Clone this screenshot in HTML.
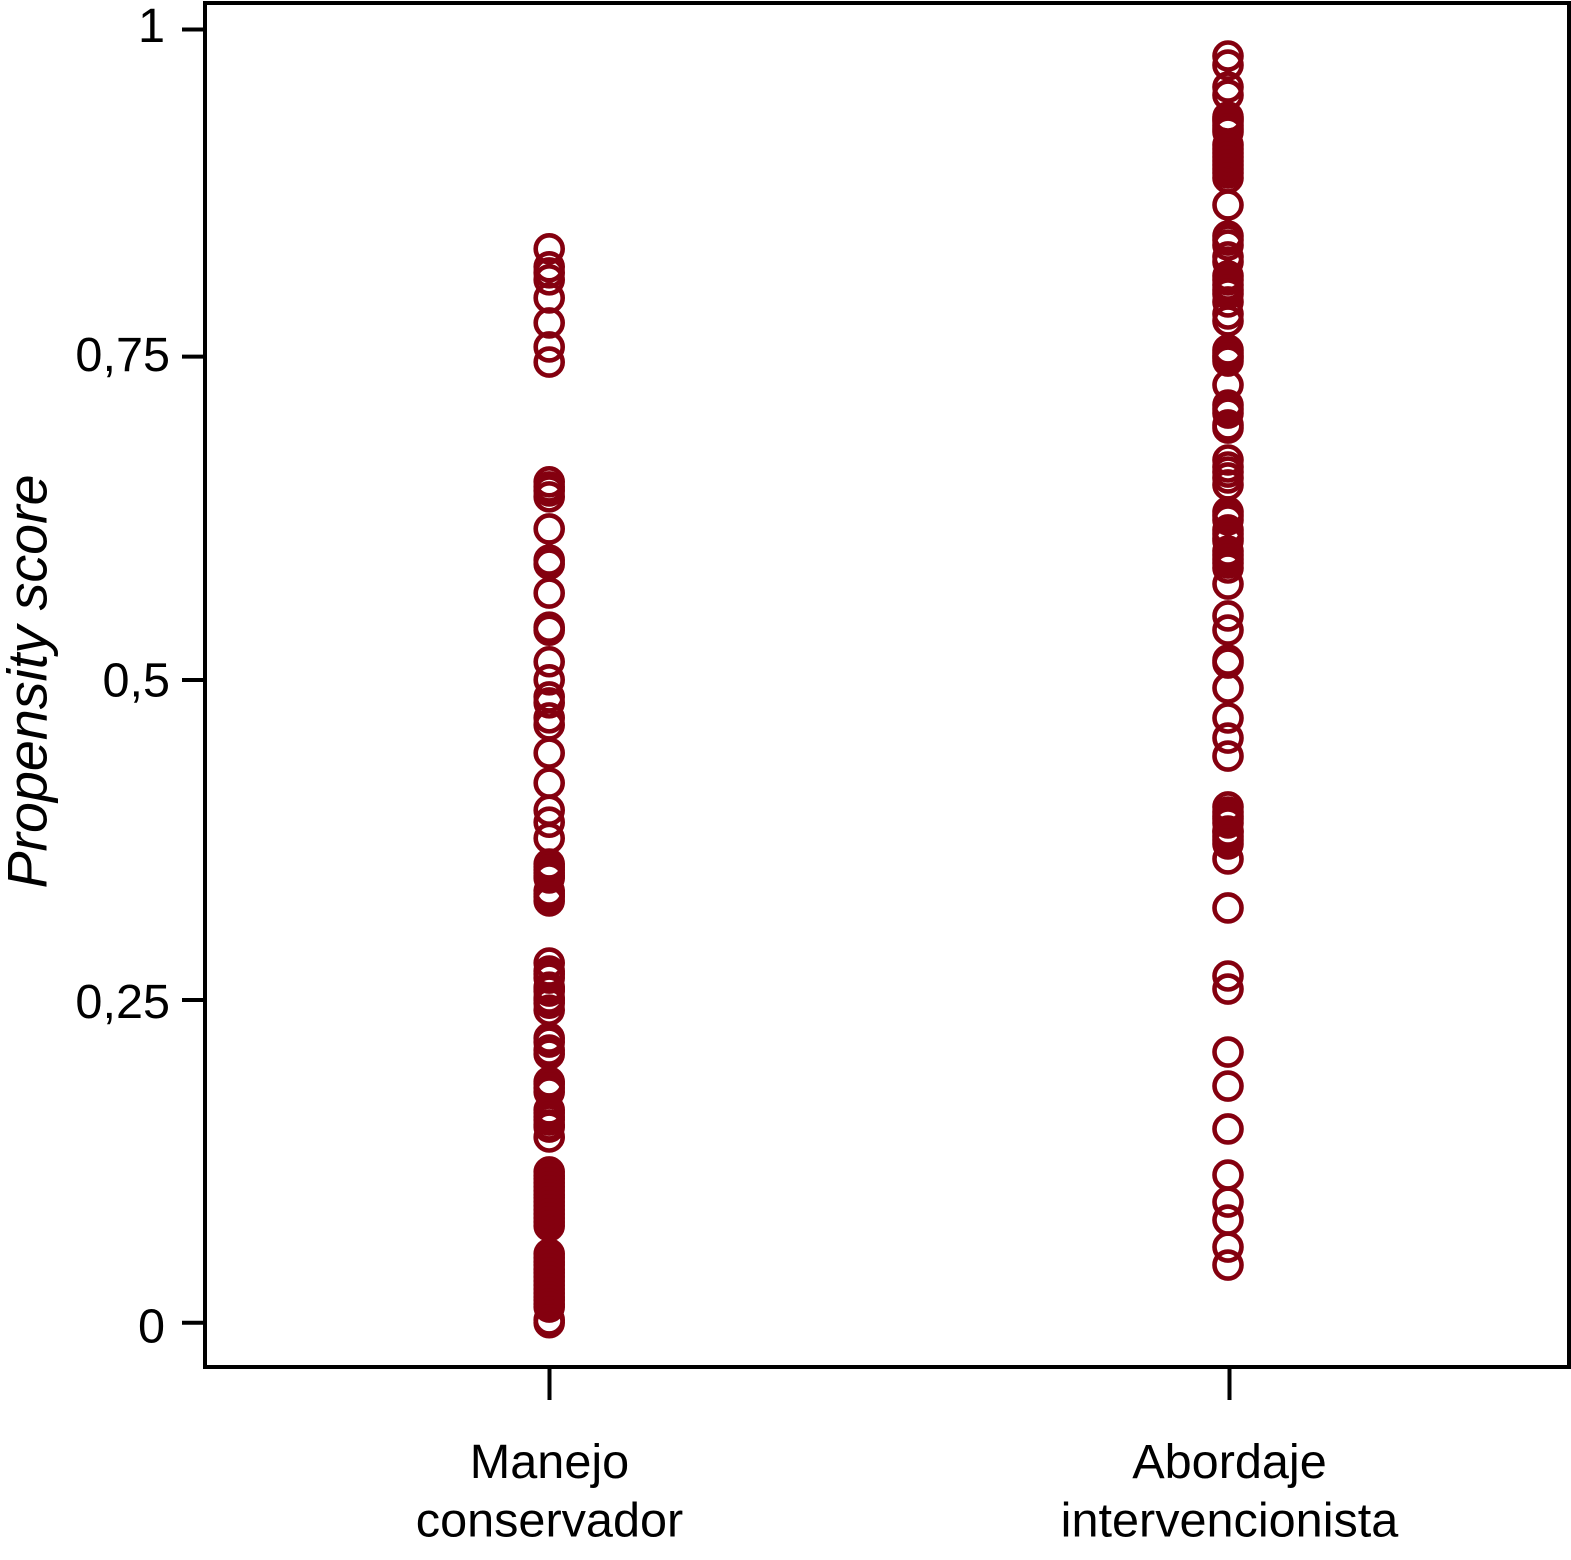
<!DOCTYPE html>
<html lang="es">
<head>
<meta charset="utf-8">
<title>Propensity score</title>
<style>
html,body{margin:0;padding:0;background:#fff;}
svg{display:block;}
text{font-family:"Liberation Sans",Arial,sans-serif;fill:#000;}
</style>
</head>
<body>
<svg id="chart" width="1571" height="1560" viewBox="0 0 1571 1560" xmlns="http://www.w3.org/2000/svg">
  <rect x="0" y="0" width="1571" height="1560" fill="#fff"/>
  <g id="points"></g>
  <rect x="205" y="3" width="1364" height="1364" fill="none" stroke="#000" stroke-width="4"/>
  <g id="axes"></g>
  <text transform="translate(46.5,681.5) rotate(-90)" text-anchor="middle" font-size="55.6" font-style="italic">Propensity score</text>
</svg>
<script>
const categories = [["Manejo", "conservador"], ["Abordaje", "intervencionista"]];
const yTickValues = [0, 0.2495, 0.4970, 0.7470, 1];
const yTickLabels = ["0", "0,25", "0,5", "0,75", "1"];
const manejoScores = [
  .8304,.8165,.8118,.8064,.7924,.7731,.7545,.7428,
  .6502,.6463,.6432,.6386,.6138,.5897,.5866,.5642,.5378,.5355,
  .5111,.4971,.4839,.4793,.4677,.4622,.4405,.4173,.3963,.3870,.3746,
  .3547,.3524,.3501,.3477,.3454,.3439,.3338,.3315,.3292,.3261,
  .2781,.2719,.2696,.2665,.2595,.2580,.2564,.2510,.2495,.2471,.2417,
  .2201,.2170,.2108,.2077,
  .1862,.1846,.1815,.1784,.1645,.1622,.1591,.1567,.1529,.1513,.1436,
  .1166,.1135,.1112,.1081,.1050,.1019,.0988,.0965,.0934,.0903,.0872,.0841,.0810,.0779,.0748,
  .0532,.0501,.0470,.0446,.0415,.0384,.0353,.0322,.0291,.0260,.0229,.0198,.0175,.0144,.0121,.0021,0
];
const abordajeScores = [
  .9795,.9725,.9555,.9493,.9323,.9308,.9292,.9261,.9231,.9207,
  .9107,.9076,.9045,.9014,.8983,.8952,.8921,.8890,.8852,.8643,
  .8403,.8372,.8333,.8241,.8202,.8094,.8063,.8024,.7986,.7955,.7893,.7800,.7746,
  .7522,.7498,.7475,.7460,.7436,.7251,.7096,.7065,.7034,.6942,.6918,
  .6671,.6617,.6578,.6532,.6478,.6269,.6238,.6207,.6130,.6099,.6068,.6045,
  .5967,.5936,.5905,.5874,.5836,.5712,.5465,.5356,.5124,.5101,.4908,.4676,.4521,.4382,
  .3988,.3949,.3918,.3895,.3864,.3802,.3794,.3763,.3733,.3702,.3586,.3207,
  .2681,.2580,.2093,.1830,.1498,.1142,.0933,.0794,.0585,.0446
];

const SVG_NS = "http://www.w3.org/2000/svg";
const MARK_COLOR = "#84000f";
function yScale(v) { return 1322.7 - 1293.2 * v; }
function xScale(i) { return 549.5 + 680 * i; }

const pointsGroup = document.getElementById("points");
const axesGroup = document.getElementById("axes");

function addPoints(values, col, xShift, name) {
  values.forEach(function (v) {
    const c = document.createElementNS(SVG_NS, "circle");
    c.setAttribute("cx", xScale(col) + xShift);
    c.setAttribute("cy", yScale(v));
    c.setAttribute("r", 13.5);
    c.setAttribute("fill", "none");
    c.setAttribute("stroke", MARK_COLOR);
    c.setAttribute("stroke-width", 4.6);
    
    
    pointsGroup.appendChild(c);
  });
}
addPoints(manejoScores, 0, -0.3, "point-manejo-conservador");
addPoints(abordajeScores, 1, -1.5, "point-abordaje-intervencionista");

yTickValues.forEach(function (v, i) {
  const y = yScale(v);
  const t = document.createElementNS(SVG_NS, "line");
  t.setAttribute("x1", 182);
  t.setAttribute("x2", 205);
  t.setAttribute("y1", y);
  t.setAttribute("y2", y);
  t.setAttribute("stroke", "#000");
  t.setAttribute("stroke-width", 4);
  
  
  axesGroup.appendChild(t);

  const l = document.createElementNS(SVG_NS, "text");
  l.setAttribute("x", yTickLabels[i].length === 1 ? 165 : 170);
  l.setAttribute("y", y + 12.5 + 7.5 * (1 - v));
  l.setAttribute("text-anchor", "end");
  l.setAttribute("font-size", 48.6);
  l.textContent = yTickLabels[i];
  
  
  axesGroup.appendChild(l);
});

categories.forEach(function (lines, i) {
  const x = xScale(i);
  const t = document.createElementNS(SVG_NS, "line");
  t.setAttribute("x1", x);
  t.setAttribute("x2", x);
  t.setAttribute("y1", 1367);
  t.setAttribute("y2", 1400);
  t.setAttribute("stroke", "#000");
  t.setAttribute("stroke-width", 4);
  
  
  axesGroup.appendChild(t);

  lines.forEach(function (line, j) {
    const l = document.createElementNS(SVG_NS, "text");
    l.setAttribute("x", x);
    l.setAttribute("y", 1478 + 58.7 * j);
    l.setAttribute("text-anchor", "middle");
    l.setAttribute("font-size", 48.6);
    l.textContent = line;
    
    
    axesGroup.appendChild(l);
  });
});
</script>
</body>
</html>
